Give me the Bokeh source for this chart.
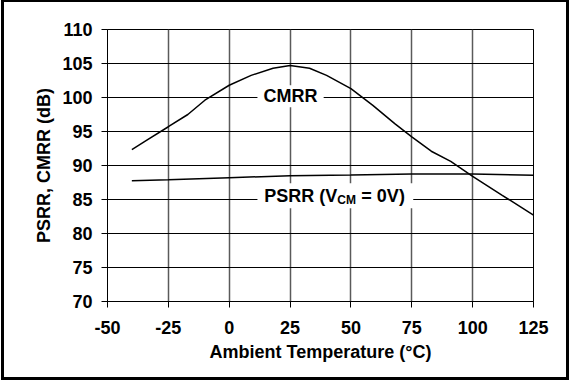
from bokeh.plotting import figure
from bokeh.models import Range1d, FixedTicker, Label, BoxAnnotation
from bokeh.embed import file_html
from bokeh.resources import INLINE

# ---- data ----
cmrr_temp = [-40, -34, -25, -17, -10, 0, 9, 18, 25, 33, 40, 50, 59, 68, 75, 83, 91, 100, 112, 125]
cmrr_db = [92.35, 93.7, 95.7, 97.5, 99.6, 101.8, 103.25, 104.3, 104.7, 104.3, 103.25, 101.3,
           98.85, 96.15, 94.2, 92.1, 90.6, 88.4, 85.65, 82.7]

psrr_temp = [-40, -25, 0, 25, 50, 75, 100, 125]
psrr_db = [87.75, 87.9, 88.2, 88.5, 88.6, 88.75, 88.75, 88.55]

x_ticks = [-50, -25, 0, 25, 50, 75, 100, 125]
y_ticks = [70, 75, 80, 85, 90, 95, 100, 105, 110]

x_title = "Ambient Temperature (°C)"
y_title = "PSRR, CMRR (dB)"

FONT = "Liberation Sans"

p = figure(width=562, height=375, output_backend="svg", toolbar_location=None,
           x_range=Range1d(-50, 125), y_range=Range1d(70, 110),
           min_border_left=103, min_border_right=33, min_border_top=27, min_border_bottom=76)
p.margin = (2, 0, 0, 4)
p.background_fill_color = "white"
p.border_fill_color = "white"
p.outline_line_color = "black"
p.outline_line_width = 1
# outer chart border, drawn just outside the figure element
p.styles = {"outline": "3px solid black", "outline-offset": "0px"}

for ax, ticks in ((p.xaxis[0], x_ticks), (p.yaxis[0], y_ticks)):
    ax.ticker = FixedTicker(ticks=ticks)
    ax.minor_tick_line_color = None
    ax.major_tick_out = 6
    ax.major_tick_in = 0
    ax.major_tick_line_color = "black"
    ax.axis_line_color = "black"
    ax.major_label_text_font = FONT
    ax.major_label_text_font_style = "bold"
    ax.major_label_text_font_size = "18px"
    ax.major_label_text_color = "black"
    ax.axis_label_text_font = FONT
    ax.axis_label_text_font_style = "bold"
    ax.axis_label_text_font_size = "18px"
    ax.axis_label_text_color = "black"

p.xaxis.major_label_overrides = {t: str(t) for t in x_ticks}
p.xaxis.axis_label = x_title
p.yaxis.axis_label = y_title
p.xaxis.major_label_standoff = 13
p.yaxis.major_label_standoff = 9
p.xaxis.axis_label_standoff = 5
p.yaxis.axis_label_standoff = 5

p.xgrid.ticker = FixedTicker(ticks=x_ticks)
p.ygrid.ticker = FixedTicker(ticks=y_ticks)
p.xgrid.grid_line_color = "#5a5a5a"
p.xgrid.grid_line_width = 1.5
p.ygrid.grid_line_color = "black"
p.ygrid.grid_line_width = 1

p.line(cmrr_temp, cmrr_db, line_color="black", line_width=1.5)
p.line(psrr_temp, psrr_db, line_color="black", line_width=1.5)

# white boxes behind in-plot labels
p.add_layout(BoxAnnotation(left=11.6, right=38.8, bottom=98.55, top=101.8,
                           fill_color="white", fill_alpha=1, line_color=None, level="underlay"))
p.add_layout(BoxAnnotation(left=11.6, right=75.6, bottom=83.7, top=87.4,
                           fill_color="white", fill_alpha=1, line_color=None, level="underlay"))

lab_kw = dict(text_font=FONT, text_font_style="bold", text_color="black")
p.add_layout(Label(x=25.2, y=100.2, text="CMRR", text_align="center", text_baseline="middle",
                   text_font_size="18px", **lab_kw))
# PSRR (V_CM = 0V) with subscript, composed of three labels
px, py = 43.6, 85.55
p.add_layout(Label(x=px, y=py, x_offset=-71, text="PSRR (V", text_align="left",
                   text_baseline="middle", text_font_size="18px", **lab_kw))
p.add_layout(Label(x=px, y=py, x_offset=2, y_offset=-4, text="CM", text_align="left",
                   text_baseline="middle", text_font_size="12px", **lab_kw))
p.add_layout(Label(x=px, y=py, x_offset=26, text="= 0V)", text_align="left",
                   text_baseline="middle", text_font_size="18px", **lab_kw))

open("out.html", "w").write(file_html(p, INLINE))
